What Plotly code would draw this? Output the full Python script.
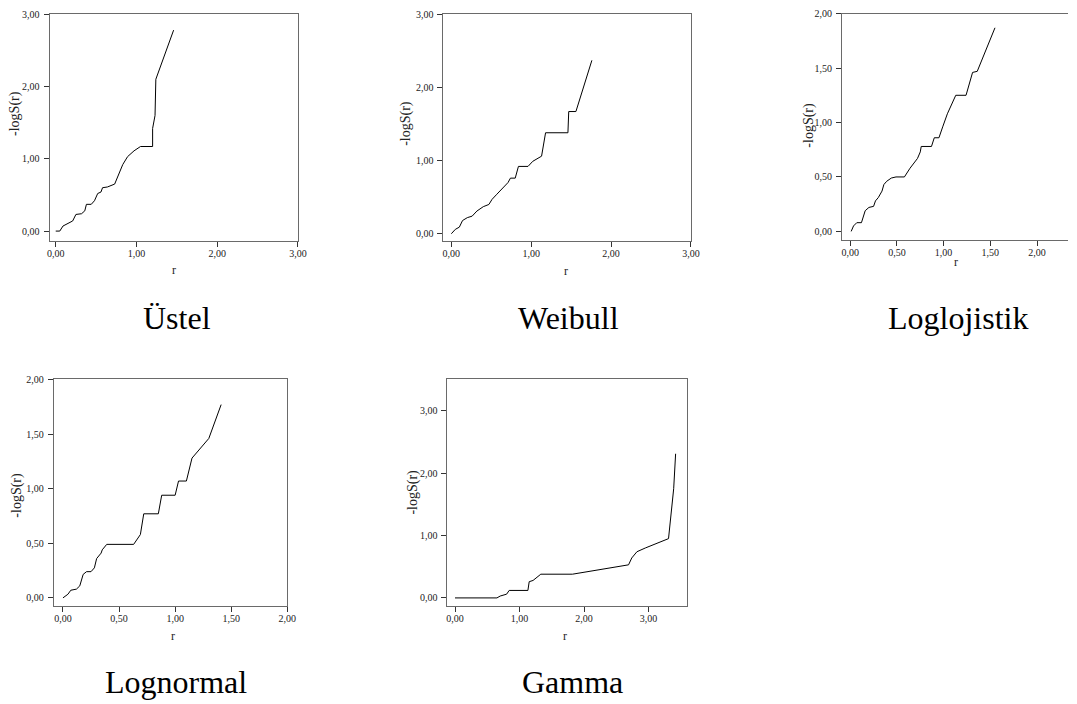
import plotly.graph_objects as go

W, H = 1077, 704

# ---- data ----
ustel_r = [0.0, 0.05, 0.09, 0.15, 0.21, 0.25, 0.32, 0.36, 0.38, 0.44, 0.48, 0.52, 0.56, 0.58, 0.64, 0.73,
           0.77, 0.83, 0.89, 0.97, 1.05, 1.20, 1.20, 1.23, 1.24, 1.46]
ustel_v = [0.0, 0.0, 0.07, 0.10, 0.14, 0.23, 0.24, 0.28, 0.37, 0.37, 0.42, 0.52, 0.54, 0.60, 0.61, 0.65,
           0.76, 0.92, 1.03, 1.11, 1.17, 1.17, 1.42, 1.60, 2.10, 2.78]

weibull_r = [0.0, 0.05, 0.10, 0.14, 0.20, 0.26, 0.32, 0.40, 0.47, 0.51, 0.57, 0.65, 0.71, 0.74, 0.80, 0.84,
             0.96, 1.02, 1.13, 1.18, 1.46, 1.47, 1.56, 1.76]
weibull_v = [0.0, 0.06, 0.09, 0.18, 0.22, 0.24, 0.31, 0.37, 0.40, 0.47, 0.54, 0.64, 0.70, 0.76, 0.76, 0.92,
             0.92, 0.99, 1.06, 1.38, 1.38, 1.67, 1.67, 2.37]

loglo_r = [0.01, 0.035, 0.07, 0.12, 0.16, 0.20, 0.25, 0.27, 0.30, 0.34, 0.36, 0.39, 0.44, 0.49, 0.58, 0.64,
           0.72, 0.75, 0.76, 0.87, 0.90, 0.95, 0.99, 1.04, 1.13, 1.24, 1.31, 1.36, 1.55]
loglo_v = [0.0, 0.05, 0.08, 0.08, 0.19, 0.22, 0.23, 0.28, 0.31, 0.37, 0.43, 0.46, 0.49, 0.50, 0.50, 0.58,
           0.67, 0.73, 0.78, 0.78, 0.86, 0.86, 0.96, 1.08, 1.25, 1.25, 1.46, 1.47, 1.87]

lognorm_r = [0.0, 0.044, 0.07, 0.12, 0.15, 0.16, 0.18, 0.21, 0.25, 0.28, 0.30, 0.34, 0.35, 0.39, 0.63, 0.69,
             0.72, 0.85, 0.88, 1.00, 1.03, 1.10, 1.15, 1.30, 1.41]
lognorm_v = [0.0, 0.033, 0.07, 0.08, 0.11, 0.14, 0.215, 0.24, 0.24, 0.275, 0.36, 0.41, 0.44, 0.49, 0.49, 0.58,
             0.77, 0.77, 0.94, 0.94, 1.07, 1.07, 1.28, 1.46, 1.77]

gamma_r = [0.0, 0.65, 0.70, 0.80, 0.84, 1.13, 1.15, 1.21, 1.33, 1.82, 2.69, 2.74, 2.82, 2.95, 3.31, 3.39, 3.42]
gamma_v = [0.0, 0.0, 0.03, 0.06, 0.12, 0.12, 0.26, 0.28, 0.38, 0.38, 0.53, 0.64, 0.74, 0.80, 0.95, 1.75, 2.31]

captions = ["Üstel", "Weibull", "Loglojistik", "Lognormal", "Gamma"]
ticks_3 = [0, 1, 2, 3]
ticks_2 = [0, 0.5, 1, 1.5, 2]


def lab(vals):
    return [f"{v:.2f}".replace(".", ",") for v in vals]


# panel geometry in pixels: (x0, x1, y_top, y_bottom), ranges, ticks
panels = [
    dict(r=ustel_r, v=ustel_v, px=(48, 299), py=(8.3, 237), xr=[-0.077, 3.0], yr=[-0.137, 3.0],
         xt=ticks_3, yt=ticks_3, mirror_y=True, ytitle=(13, 108), xtitle=(174, 266), cap=(177, 315)),
    dict(r=weibull_r, v=weibull_v, px=(446, 696), py=(8.3, 236.7), xr=[-0.099, 3.0], yr=[-0.095, 3.0],
         xt=ticks_3, yt=ticks_3, mirror_y=True, ytitle=(408, 118), xtitle=(570, 267), cap=(572, 315)),
    dict(r=loglo_r, v=loglo_v, px=(848.7, 1077), py=(7.7, 236), xr=[-0.088, 2.332], yr=[-0.079, 2.0],
         xt=ticks_2, yt=ticks_2, mirror_y=False, ytitle=(815, 120), xtitle=(964, 258), cap=(966, 315)),
    dict(r=lognorm_r, v=lognorm_v, px=(52.3, 288.3), py=(376.7, 605), xr=[-0.082, 2.0], yr=[-0.073, 2.0],
         xt=ticks_2, yt=ticks_2, mirror_y=True, ytitle=(15, 493), xtitle=(173, 635), cap=(176, 682)),
    dict(r=gamma_r, v=gamma_v, px=(450, 692.3), py=(376.7, 605), xr=[-0.118, 3.6], yr=[-0.127, 3.5],
         xt=ticks_3, yt=ticks_3, mirror_y=True, ytitle=(415, 490), xtitle=(569, 635), cap=(576, 682)),
]

fig = go.Figure()
annotations = []
serif = "Liberation Serif, Times New Roman, serif"

for i, p in enumerate(panels, start=1):
    xa = "x" if i == 1 else f"x{i}"
    ya = "y" if i == 1 else f"y{i}"
    fig.add_trace(go.Scatter(x=p["r"], y=p["v"], mode="lines", xaxis=xa, yaxis=ya,
                             line=dict(color="black", width=1), showlegend=False, hoverinfo="skip"))
    xkey = "xaxis" if i == 1 else f"xaxis{i}"
    ykey = "yaxis" if i == 1 else f"yaxis{i}"
    common = dict(showgrid=False, zeroline=False, showline=True, linecolor="#6a6a6a", linewidth=1,
                  ticks="outside", ticklen=5, tickcolor="#333", tickwidth=1,
                  tickfont=dict(family=serif, size=10, color="#222"), fixedrange=True)
    fig.update_layout(**{
        xkey: dict(domain=[p["px"][0] / W, min(p["px"][1] / W, 1.0)], range=p["xr"], anchor=ya,
                   tickvals=p["xt"], ticktext=lab(p["xt"]), mirror=True, ticklabelstandoff=-2, **common),
        ykey: dict(domain=[1 - p["py"][1] / H, 1 - p["py"][0] / H], range=p["yr"], anchor=xa,
                   tickvals=p["yt"], ticktext=lab(p["yt"]), mirror=p["mirror_y"], ticklabelstandoff=2,
                   **common),
    })
    annotations.append(dict(x=p["ytitle"][0] / W, y=1 - p["ytitle"][1] / H, xref="paper", yref="paper",
                            text="-logS(r)", textangle=-90, showarrow=False,
                            font=dict(family=serif, size=14, color="#222"),
                            xanchor="center", yanchor="middle"))
    annotations.append(dict(x=p["xtitle"][0] / W, y=1 - p["xtitle"][1] / H, xref="paper", yref="paper",
                            text="r", showarrow=False, font=dict(family=serif, size=12, color="#222"),
                            xanchor="center", yanchor="middle"))
    annotations.append(dict(x=p["cap"][0] / W, y=1 - p["cap"][1] / H, xref="paper", yref="paper",
                            text=captions[i - 1], showarrow=False,
                            font=dict(family=serif, size=32, color="black"),
                            xanchor="center", yanchor="middle"))

fig.update_layout(width=W, height=H, margin=dict(l=0, r=0, t=0, b=0),
                  paper_bgcolor="white", plot_bgcolor="white", annotations=annotations)

fig.write_html("out.html", config={"displayModeBar": False, "staticPlot": True},
               post_script="document.body.style.margin='0';document.body.style.overflow='hidden';")
